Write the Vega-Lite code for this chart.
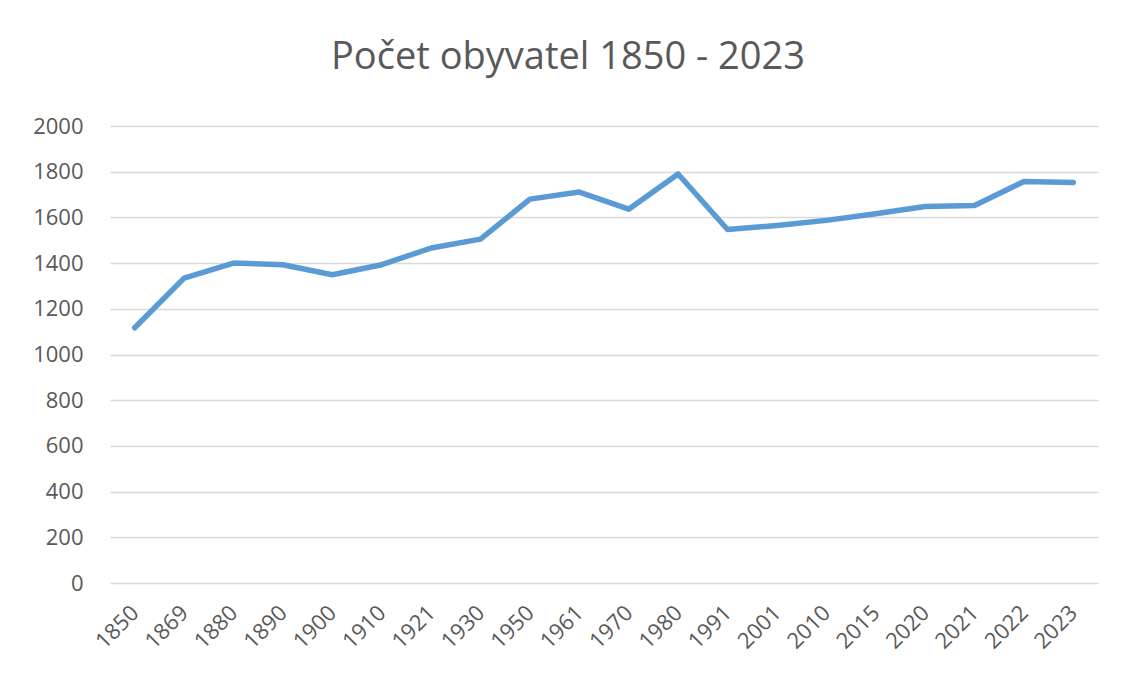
{
  "$schema": "https://vega.github.io/schema/vega-lite/v6.json",
  "autosize": {"type": "none"},
  "width": 988,
  "height": 457,
  "padding": {"left": 110, "top": 126, "right": 24, "bottom": 95},
  "background": "white",
  "title": {
    "text": "Počet obyvatel 1850 - 2023",
    "font": "Open Sans",
    "fontSize": 38,
    "fontWeight": "normal",
    "color": "#595959",
    "anchor": "middle",
    "frame": "group",
    "dx": -36,
    "offset": 38
  },
  "data": {
    "values": [
      {"rok": "1850", "obyvatel": 1117},
      {"rok": "1869", "obyvatel": 1334},
      {"rok": "1880", "obyvatel": 1400},
      {"rok": "1890", "obyvatel": 1393},
      {"rok": "1900", "obyvatel": 1349},
      {"rok": "1910", "obyvatel": 1393},
      {"rok": "1921", "obyvatel": 1466},
      {"rok": "1930", "obyvatel": 1505},
      {"rok": "1950", "obyvatel": 1680},
      {"rok": "1961", "obyvatel": 1711},
      {"rok": "1970", "obyvatel": 1636},
      {"rok": "1980", "obyvatel": 1790},
      {"rok": "1991", "obyvatel": 1547},
      {"rok": "2001", "obyvatel": 1565},
      {"rok": "2010", "obyvatel": 1587},
      {"rok": "2015", "obyvatel": 1616},
      {"rok": "2020", "obyvatel": 1648},
      {"rok": "2021", "obyvatel": 1652},
      {"rok": "2022", "obyvatel": 1757},
      {"rok": "2023", "obyvatel": 1753}
    ]
  },
  "mark": {"type": "line", "color": "#5B9BD5", "strokeWidth": 5.5, "strokeCap": "round", "strokeJoin": "round"},
  "encoding": {
    "x": {
      "field": "rok",
      "type": "ordinal",
      "sort": null,
      "scale": {"paddingInner": 0, "paddingOuter": 0.5},
      "axis": {
        "title": null,
        "labelAngle": -45,
        "labelAlign": "right",
        "labelBaseline": "middle",
        "labelFont": "Open Sans",
        "labelFontSize": 22,
        "labelColor": "#595959",
        "labelPadding": 26,
        "ticks": false,
        "domain": false,
        "grid": false
      }
    },
    "y": {
      "field": "obyvatel",
      "type": "quantitative",
      "scale": {"domain": [0, 2000], "nice": false},
      "axis": {
        "title": null,
        "format": "d",
        "values": [0, 200, 400, 600, 800, 1000, 1200, 1400, 1600, 1800, 2000],
        "labelFont": "Open Sans",
        "labelFontSize": 22,
        "labelColor": "#595959",
        "labelPadding": 27,
        "ticks": false,
        "domain": false,
        "grid": true,
        "gridColor": "#D9D9D9",
        "gridWidth": 1.3
      }
    }
  },
  "config": {"view": {"stroke": null}}
}
